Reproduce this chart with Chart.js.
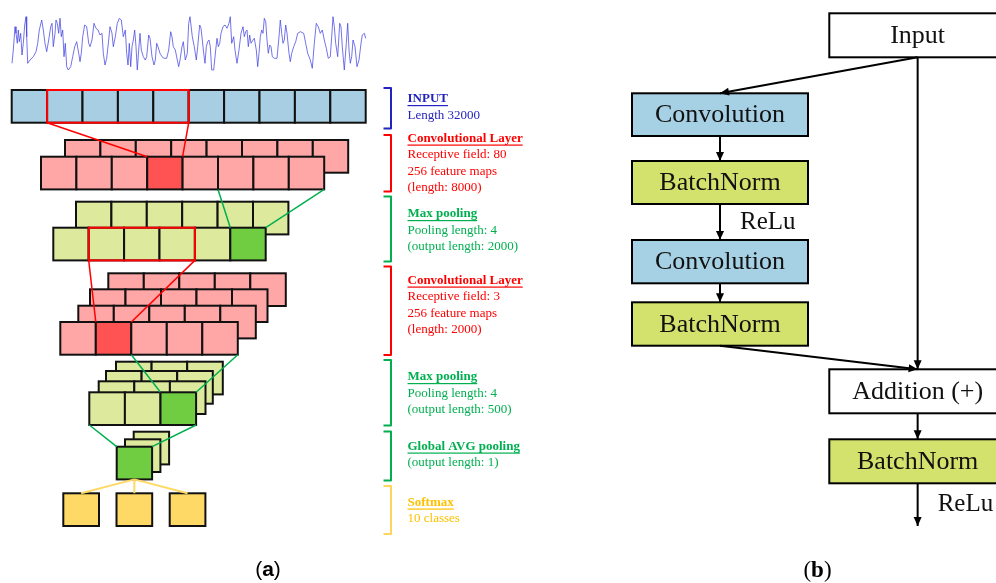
<!DOCTYPE html>
<html>
<head>
<meta charset="utf-8">
<title>CNN architecture</title>
<style>
  html, body { margin: 0; padding: 0; background: #fff; }
  #wrap { width: 996px; height: 583px; }
</style>
<script src="https://cdn.jsdelivr.net/npm/chart.js@4.4.0/dist/chart.umd.min.js"></script>
</head>
<body>
<div id="wrap"><canvas id="diagram" width="996" height="583"></canvas></div>
<script>
// raw audio trace drawn above the input layer
const sigX = [12, 13.3, 15, 16, 17.3, 18.3, 19.3, 20.7, 22, 23.3, 24.7, 26, 26.7, 27.7, 30, 33.3, 36, 37.7, 39.3, 41.7,
  43.3, 45, 46.7, 48.7, 50.7, 52, 53.3, 55, 56, 57.3, 58.7, 60, 61.3, 62.7, 64, 65.3, 66.7, 68.3, 70.7, 72.7,
  74.7, 76.7, 78.7, 80, 81.3, 82.7, 84.7, 86.7, 88.7, 90, 92, 94, 96, 98, 100, 102, 103.3, 105, 106.7, 108.7,
  110, 112, 113.3, 115.3, 117.3, 119.3, 121.3, 123.3, 125.3, 126.7, 128, 129.3, 130.7, 132, 133.3, 134.7, 136, 137.3, 138.7, 140,
  141.3, 143.3, 145.3, 146.7, 148.7, 150, 152, 154, 155.3, 156.7, 158, 160, 162, 164, 166.7, 168.7, 170.7, 172, 173.3, 175.3,
  177.3, 178.7, 180, 182, 183.3, 185.3, 187.3, 188.7, 190, 192.3, 194.3, 196.3, 197.7, 199.7, 201, 202.3, 203.7, 205, 206.3, 207.7,
  209, 210.3, 211.7, 213.7, 215.7, 217, 218.3, 219.7, 221, 223, 225, 227, 229, 230.3, 231.7, 233.7, 235, 237, 239, 241,
  243, 244.3, 245.7, 247, 248.3, 249.7, 251, 253, 254.3, 256.3, 257.7, 259, 260.3, 261.7, 263, 264.3, 265.7, 267, 268.3, 269.7,
  271, 272.3, 274.3, 277, 279, 280.3, 281.7, 283, 284.3, 285.7, 287, 289, 290.3, 291.7, 293.7, 295.7, 297.7, 300.3, 303.7, 305.7,
  307.7, 310.3, 312.3, 314.3, 316.3, 318.3, 320.3, 322.3, 324.3, 326.3, 328.3, 330.3, 331.7, 333, 334.3, 335.7, 337.7, 339.7, 341, 342.3,
  344.3, 346.3, 347.7, 349, 350.3, 351.7, 353, 355, 357, 359, 361, 362.3, 364.3, 365.7];
const sigY = [63.3, 50, 26.7, 33.3, 43.3, 30, 41.7, 33.3, 55, 43.3, 25, 16.7, 36.7, 63.3, 60, 56.7, 51.7, 43.3, 30, 20,
  30, 43.3, 51.7, 40, 26.7, 23.3, 46.7, 33.3, 20, 23.3, 33.3, 18.3, 36.7, 30, 56.7, 43.3, 66.7, 70, 66.7, 56.7,
  46.7, 41.7, 53.3, 61.7, 53.3, 36.7, 25, 26.7, 43.3, 46.7, 40, 23.3, 28.3, 30, 35, 33.3, 53.3, 65, 58.3, 40,
  26.7, 33.3, 46.7, 36.7, 23.3, 18.3, 20, 36.7, 30, 53.3, 65, 43.3, 66.7, 46.7, 40, 30, 46.7, 70, 50, 33.3,
  50, 56.7, 60, 56.7, 35, 38.3, 56.7, 65, 60, 43.3, 46.7, 53.3, 56.7, 58.3, 58.3, 50, 31.7, 36.7, 46.7, 50,
  60, 66.7, 60, 46.7, 41.7, 60, 53.3, 23.3, 16.7, 36.7, 46.7, 60, 46.7, 25, 28.3, 40, 53.3, 63.3, 46.7, 41.7,
  40, 46.7, 70, 70, 50, 38.3, 46.7, 43.3, 33.3, 26.7, 25, 28.3, 23.3, 16.7, 43.3, 36.7, 50, 63.3, 50, 33.3,
  26.7, 36.7, 31.7, 30, 46.7, 35, 43.3, 40, 38.3, 50, 66.7, 53.3, 36.7, 30, 33.3, 18.3, 21.7, 40, 53.3, 45,
  46.7, 56.7, 58.3, 58.3, 36.7, 20, 33.3, 43.3, 40, 25, 33.3, 53.3, 61.7, 53.3, 46.7, 41.7, 33.3, 31.7, 33.3, 43.3,
  53.3, 60, 68.3, 43.3, 23.3, 26.7, 33.3, 30, 40, 48.3, 58.3, 56.7, 36.7, 16.7, 26.7, 43.3, 56.7, 23.3, 26.7, 46.7,
  70, 43.3, 23.3, 50, 63.3, 56.7, 40, 46.7, 66.7, 60, 43.3, 35, 33.3, 38.3];

// left panel: the layers of the network
const layerNames = ['INPUT', 'Convolutional Layer', 'Max pooling', 'Convolutional Layer', 'Max pooling', 'Global AVG pooling', 'Softmax'];
const layerNotes = [
  ['Length 32000'],
  ['Receptive field: 80', '256 feature maps', '(length: 8000)'],
  ['Pooling length: 4', '(output length: 2000)'],
  ['Receptive field: 3', '256 feature maps', '(length: 2000)'],
  ['Pooling length: 4', '(output length: 500)'],
  ['(output length: 1)'],
  ['10 classes']
];
const cellsPerRow = [10, 8, 6, 5, 3, 1, 3];
const stackDepth = [1, 2, 2, 4, 4, 3, 1];
const activeCell = [-1, 3, 5, 1, 2, 0, -1];
// cells of the previous layer's front row that feed the active cell [from, to)
const sourceCells = [null, [1, 5], [5, 8], [1, 4], [2, 5], [0, 3], null];
// red receptive windows drawn on a layer's front row [from, to)
const windowCells = [[1, 5], null, [1, 4], null, null, null, null];

// right panel: residual block
const blockLabels = ['Input', 'Convolution', 'BatchNorm', 'Convolution', 'BatchNorm', 'Addition (+)', 'BatchNorm'];
const blockKind = ['plain', 'conv', 'bn', 'conv', 'bn', 'plain', 'bn'];
const blockLinks = [[0, 1], [1, 2], [2, 3], [3, 4], [4, 5], [0, 5], [5, 6]];
const reluAfter = [2, 6];

// ---- layout (diagram units = px of the 996x583 figure) ----
const CW = 35.4, CH = 32.7;
const rowOrigins = [
  [[11.7, 90]],
  [[65, 140], [41, 156.7]],
  [[76, 201.7], [53.3, 227.7]],
  [[108.3, 273.3], [90, 289.3], [78.3, 305.7], [60.3, 322]],
  [[116, 361.7], [106, 371], [98.7, 381.3], [89.3, 392.3]],
  [[133.7, 431.7], [125, 439.3], [116.7, 446.7]],
  [[63.3, 493.3]]
];
const cellStep = [CW, CW, CW, 35.5, 35.6, CW, 53.2];
const layerFill = ['#A7CEE2', '#FFA6A6', '#DDEA9E', '#FFA6A6', '#DDEA9E', '#DDEA9E', '#FFD966'];
const layerActive = ['#A7CEE2', '#FF5252', '#70CC40', '#FF5252', '#70CC40', '#70CC40', '#FFD966'];
const layerLink = ['#FF0000', '#FF0000', '#00B050', '#FF0000', '#00B050', '#00B050', '#FFD966'];
const layerText = ['#2323C0', '#FF0000', '#00B050', '#FF0000', '#00B050', '#00B050', '#FFC000'];
const bracketColor = ['#2323C0', '#FF0000', '#00B050', '#FF0000', '#00B050', '#00B050', '#FFD45A'];
const bracketSpan = [[88, 128.5], [135, 191.5], [196.5, 261.5], [266.5, 355], [360, 425.5], [431.5, 480.5], [486, 534]];
const titleY = [99, 138.5, 214, 280.5, 377, 446.5, 502.5];
const blockBoxes = [
  [829.3, 13.3, 1006, 57.3],
  [632, 93.3, 808, 136],
  [632, 161, 808, 204],
  [632, 240, 808, 283.3],
  [632, 302.3, 808, 345.7],
  [829.3, 369.3, 1006, 413.3],
  [829.3, 439.3, 1006, 483.3]
];
const blockFill = { plain: '#FFFFFF', conv: '#A6D0E4', bn: '#D3E26C' };
const outputEndY = 526;

const SERIF = '"Liberation Serif", "DejaVu Serif", serif';

function cellBox(layer, row, i) {
  const o = rowOrigins[layer][row];
  return [o[0] + i * cellStep[layer], o[1], o[0] + i * cellStep[layer] + (layer === 6 ? 35.7 : cellStep[layer]), o[1] + CH];
}
function frontRow(layer) { return rowOrigins[layer].length - 1; }

// connector lines between layers, built from the layer structure
const connectors = [];
for (let l = 1; l < 6; l++) {
  const s = sourceCells[l];
  const pr = frontRow(l - 1);
  const a = cellBox(l - 1, pr, s[0]), b = cellBox(l - 1, pr, s[1] - 1);
  const t = cellBox(l, frontRow(l), activeCell[l]);
  connectors.push({ pts: [[a[0], a[3]], [t[0], t[1]]], color: layerLink[l], w: 1.5 });
  connectors.push({ pts: [[b[2], b[3]], [t[2], t[1]]], color: layerLink[l], w: 1.5 });
}
{
  const g = cellBox(5, frontRow(5), 0);
  for (let i = 0; i < cellsPerRow[6]; i++) {
    const t = cellBox(6, 0, i);
    connectors.push({ pts: [[(g[0] + g[2]) / 2, g[3]], [(t[0] + t[2]) / 2, t[1]]], color: layerLink[6], w: 2 });
  }
}
// arrows of the residual block
const arrows = blockLinks.map(([a, b]) => {
  const s = blockBoxes[a], t = blockBoxes[b];
  return [[(s[0] + s[2]) / 2, s[3]], [(t[0] + t[2]) / 2, t[1]]];
});
{
  const s = blockBoxes[6];
  arrows.push([[(s[0] + s[2]) / 2, s[3]], [(s[0] + s[2]) / 2, outputEndY]]);
}

const lineSet = (pts, color, w) => ({
  data: pts.map(p => ({ x: p[0], y: p[1] })),
  showLine: true, borderColor: color, borderWidth: w, pointRadius: 0, fill: false, tension: 0
});

const datasets = [];
datasets.push({
  data: sigX.map((x, i) => ({ x: x, y: sigY[i] })),
  showLine: true, borderColor: 'rgba(70,70,225,0.75)', borderWidth: 1, pointRadius: 0, tension: 0
});
connectors.forEach(c => datasets.push(lineSet(c.pts, c.color, c.w)));
arrows.forEach(a => datasets.push(lineSet(a, '#000000', 2)));

const diagramPlugin = {
  id: 'diagram',
  beforeDatasetsDraw(chart) {
    const ctx = chart.ctx, X = v => chart.scales.x.getPixelForValue(v), Y = v => chart.scales.y.getPixelForValue(v);
    const rect = (b, fill, stroke, lw) => {
      const x0 = X(b[0]), y0 = Y(b[1]), w = X(b[2]) - x0, h = Y(b[3]) - y0;
      if (fill) { ctx.fillStyle = fill; ctx.fillRect(x0, y0, w, h); }
      ctx.strokeStyle = stroke; ctx.lineWidth = lw; ctx.strokeRect(x0, y0, w, h);
    };
    ctx.save();
    ctx.lineJoin = 'miter';
    // stacked feature maps
    for (let l = 0; l < rowOrigins.length; l++) {
      const fr = frontRow(l);
      for (let r = 0; r <= fr; r++) {
        for (let i = 0; i < cellsPerRow[l]; i++) {
          const active = (r === fr && i === activeCell[l]);
          rect(cellBox(l, r, i), active ? layerActive[l] : layerFill[l], '#111111', 2);
        }
      }
      if (windowCells[l]) {
        const a = cellBox(l, fr, windowCells[l][0]), b = cellBox(l, fr, windowCells[l][1] - 1);
        rect([a[0], a[1], b[2], b[3]], null, '#FF0000', 2);
      }
    }
    // residual block boxes
    blockBoxes.forEach((b, i) => rect(b, blockFill[blockKind[i]], '#000000', 2));
    ctx.restore();
  },
  afterDatasetsDraw(chart) {
    const ctx = chart.ctx, X = v => chart.scales.x.getPixelForValue(v), Y = v => chart.scales.y.getPixelForValue(v);
    ctx.save();
    // arrow heads
    ctx.fillStyle = '#000000';
    arrows.forEach(a => {
      const x1 = X(a[1][0]), y1 = Y(a[1][1]), x0 = X(a[0][0]), y0 = Y(a[0][1]);
      const ang = Math.atan2(y1 - y0, x1 - x0), L = 9, W = 4;
      ctx.beginPath();
      ctx.moveTo(x1, y1);
      ctx.lineTo(x1 - L * Math.cos(ang) + W * Math.sin(ang), y1 - L * Math.sin(ang) - W * Math.cos(ang));
      ctx.lineTo(x1 - L * Math.cos(ang) - W * Math.sin(ang), y1 - L * Math.sin(ang) + W * Math.cos(ang));
      ctx.closePath();
      ctx.fill();
    });
    // brackets and layer descriptions
    const bx0 = X(383.5), bx1 = X(391), tx = X(407.5);
    ctx.lineJoin = 'round';
    for (let l = 0; l < layerNames.length; l++) {
      const top = Y(bracketSpan[l][0]), bot = Y(bracketSpan[l][1]);
      ctx.strokeStyle = bracketColor[l];
      ctx.lineWidth = 2;
      ctx.beginPath();
      ctx.moveTo(bx0, top); ctx.lineTo(bx1, top); ctx.lineTo(bx1, bot); ctx.lineTo(bx0, bot);
      ctx.stroke();

      ctx.fillStyle = layerText[l];
      ctx.textBaseline = 'middle';
      ctx.textAlign = 'left';
      ctx.font = 'bold 13px ' + SERIF;
      const ty = Y(titleY[l]);
      ctx.fillText(layerNames[l], tx, ty);
      const w = ctx.measureText(layerNames[l]).width;
      ctx.fillRect(tx, ty + 6, w, 1.2);
      ctx.font = '13px ' + SERIF;
      layerNotes[l].forEach((s, k) => ctx.fillText(s, tx, ty + 16.3 * (k + 1)));
    }
    // block labels
    ctx.fillStyle = '#111111';
    ctx.textAlign = 'center';
    ctx.font = '26px ' + SERIF;
    blockBoxes.forEach((b, i) => ctx.fillText(blockLabels[i], X((b[0] + b[2]) / 2), Y((b[1] + b[3]) / 2) + 1));
    ctx.textAlign = 'left';
    ctx.font = '25px ' + SERIF;
    reluAfter.forEach(i => {
      const b = blockBoxes[i];
      const nextTop = i === 6 ? outputEndY : blockBoxes[i + 1][1];
      ctx.fillText('ReLu', X((b[0] + b[2]) / 2 + 20), Y((b[3] + nextTop) / 2));
    });
    // panel captions
    const caption = (cx, cy, letter, family, size) => {
      ctx.font = size + 'px ' + family;
      const pw = ctx.measureText('(').width, qw = ctx.measureText(')').width;
      ctx.font = 'bold ' + size + 'px ' + family;
      const lw = ctx.measureText(letter).width;
      let x = X(cx) - (pw + lw + qw) / 2;
      const y = Y(cy);
      ctx.font = size + 'px ' + family; ctx.fillText('(', x, y); x += pw;
      ctx.font = 'bold ' + size + 'px ' + family; ctx.fillText(letter, x, y); x += lw;
      ctx.font = size + 'px ' + family; ctx.fillText(')', x, y);
    };
    ctx.fillStyle = '#000000';
    ctx.textBaseline = 'middle';
    caption(268, 570, 'a', '"Liberation Sans", "DejaVu Sans", sans-serif', 21);
    caption(817.5, 571, 'b', SERIF, 23);
    ctx.restore();
  }
};

new Chart(document.getElementById('diagram').getContext('2d'), {
  type: 'scatter',
  data: { datasets: datasets },
  options: {
    responsive: false,
    animation: false,
    events: [],
    layout: { padding: 0 },
    scales: {
      x: { type: 'linear', min: 0, max: 996, display: false },
      y: { type: 'linear', min: 0, max: 583, reverse: true, display: false }
    },
    plugins: {
      legend: { display: false },
      tooltip: { enabled: false }
    }
  },
  plugins: [diagramPlugin]
});
</script>
</body>
</html>
